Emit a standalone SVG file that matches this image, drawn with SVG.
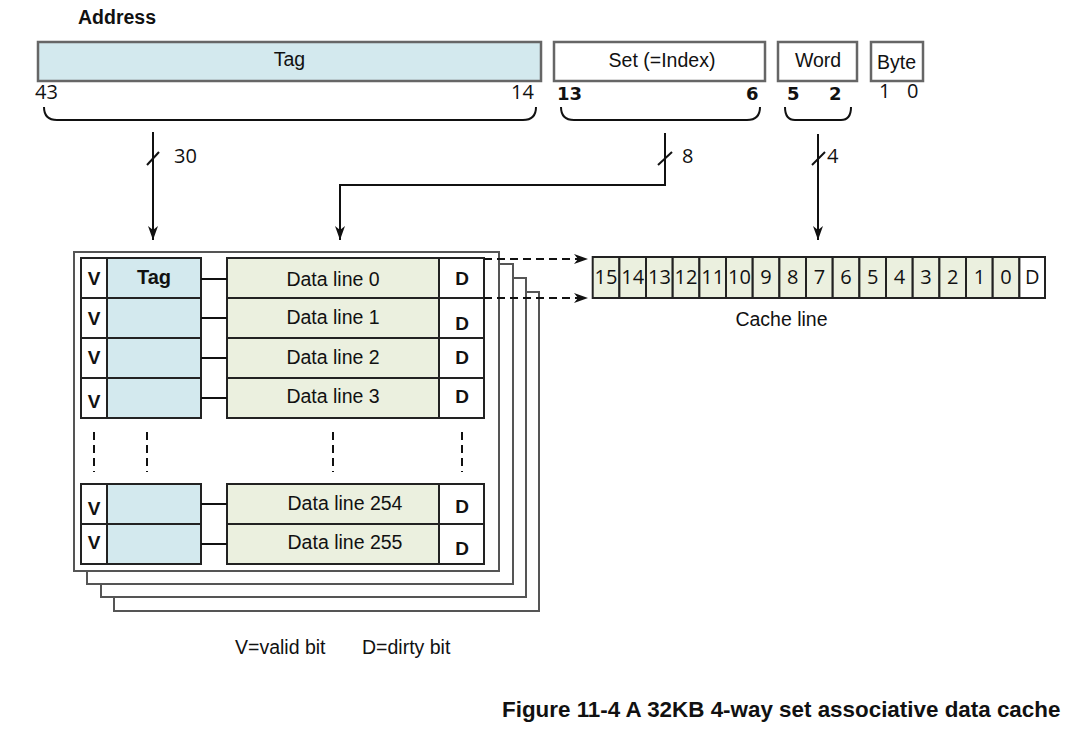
<svg xmlns="http://www.w3.org/2000/svg" width="1086" height="739" viewBox="0 0 1086 739">
  <style>
    .lbl { font-family: "Liberation Sans", Arial, sans-serif; font-size: 19.5px; fill: #111; }
    .bold { font-family: "Liberation Sans", Arial, sans-serif; font-weight: bold; fill: #111; }
    .num { font-family: "Open Sans", "DejaVu Sans", sans-serif; font-size: 20px; fill: #111; }
    .numb { font-family: "DejaVu Sans", Verdana, sans-serif; font-size: 18px; font-weight: bold; fill: #111; }
    .field { stroke: #666; stroke-width: 2.5; }
    .tagc { fill: #d3e9ee; }
    .datac { fill: #ebf0df; }
    .whitec { fill: #fff; }
    .cell { stroke: #222; stroke-width: 2; }
    .way { fill: #fff; stroke: #555; stroke-width: 2; }
    .wire { fill: none; stroke: #111; stroke-width: 2; }
    .dash { fill: none; stroke: #111; stroke-width: 2; stroke-dasharray: 8 5; }
    .brace { fill: none; stroke: #111; stroke-width: 2; }
    .mid { text-anchor: middle; }
  </style>
  <defs>
    <marker id="arrow" viewBox="0 0 14 10" refX="14" refY="5" markerWidth="14" markerHeight="10" markerUnits="userSpaceOnUse" orient="auto">
      <path d="M0,0 L14,5 L0,10 L4,5 Z" fill="#111"/>
    </marker>
  </defs>

  <!-- address fields -->
  <g id="address">
    <text class="bold" x="78" y="24" font-size="19.5px">Address</text>
  </g>
  <g id="field-tag">
    <rect class="field tagc" x="38" y="42" width="503" height="39"/>
    <text class="lbl mid" x="289.5" y="66">Tag</text>
    <text class="num" x="35" y="99">43</text>
    <text class="num" x="511" y="99">14</text>
    <path class="brace" d="M44,107 Q44,120 57,120 H523 Q536,120 536,107"/>
  </g>
  <g id="field-set">
    <rect class="field whitec" x="554" y="42" width="211" height="39"/>
    <text class="lbl mid" x="662" y="67">Set (=Index)</text>
    <text class="numb" x="557" y="100">13</text>
    <text class="numb" x="746" y="100">6</text>
    <path class="brace" d="M561,107 Q561,120 574,120 H747 Q760,120 760,107"/>
  </g>
  <g id="field-word">
    <rect class="field whitec" x="778" y="42" width="79" height="39"/>
    <text class="lbl mid" x="818" y="67">Word</text>
    <text class="numb" x="787" y="100">5</text>
    <text class="numb" x="829" y="100">2</text>
    <path class="brace" d="M785,107 Q785,120 795,120 H841 Q851,120 851,107"/>
  </g>
  <g id="field-byte">
    <rect class="field whitec" x="871" y="42" width="52" height="39"/>
    <text class="lbl mid" x="896.5" y="69">Byte</text>
    <text class="num" x="879" y="98">1</text>
    <text class="num" x="907" y="98">0</text>
  </g>

  <!-- cache ways, back to front -->
  <g id="ways">
    <rect class="way" x="114" y="292" width="425" height="319"/>
    <rect class="way" x="101" y="278" width="425" height="319"/>
    <rect class="way" x="87" y="264" width="426" height="320"/>
    <rect class="way" x="74" y="252" width="425" height="319"/>
  </g>

  <!-- rows of the front way -->
  <g id="row-0">
    <rect class="cell whitec" x="81" y="258" width="26" height="40"/>
    <rect class="cell tagc" x="107" y="258" width="94" height="40"/>
    <rect class="cell datac" x="227" y="258" width="212" height="40"/>
    <rect class="cell whitec" x="439" y="258" width="45" height="40"/>
    <text class="bold mid" x="94" y="285" font-size="19px">V</text>
    <text class="bold mid" x="154" y="284" font-size="20px">Tag</text>
    <text class="lbl mid" x="333" y="286">Data line 0</text>
    <text class="bold mid" x="462" y="285" font-size="19px">D</text>
  </g>
  <g id="row-1">
    <rect class="cell whitec" x="81" y="298" width="26" height="40"/>
    <rect class="cell tagc" x="107" y="298" width="94" height="40"/>
    <rect class="cell datac" x="227" y="298" width="212" height="40"/>
    <rect class="cell whitec" x="439" y="298" width="45" height="40"/>
    <text class="bold mid" x="94" y="325" font-size="19px">V</text>
    <text class="lbl mid" x="333" y="324">Data line 1</text>
    <text class="bold mid" x="462" y="330" font-size="19px">D</text>
  </g>
  <g id="row-2">
    <rect class="cell whitec" x="81" y="338" width="26" height="40"/>
    <rect class="cell tagc" x="107" y="338" width="94" height="40"/>
    <rect class="cell datac" x="227" y="338" width="212" height="40"/>
    <rect class="cell whitec" x="439" y="338" width="45" height="40"/>
    <text class="bold mid" x="94" y="364" font-size="19px">V</text>
    <text class="lbl mid" x="333" y="364">Data line 2</text>
    <text class="bold mid" x="462" y="364" font-size="19px">D</text>
  </g>
  <g id="row-3">
    <rect class="cell whitec" x="81" y="378" width="26" height="40"/>
    <rect class="cell tagc" x="107" y="378" width="94" height="40"/>
    <rect class="cell datac" x="227" y="378" width="212" height="40"/>
    <rect class="cell whitec" x="439" y="378" width="45" height="40"/>
    <text class="bold mid" x="94" y="408" font-size="19px">V</text>
    <text class="lbl mid" x="333" y="403">Data line 3</text>
    <text class="bold mid" x="462" y="403" font-size="19px">D</text>
  </g>
  <g id="row-254">
    <rect class="cell whitec" x="81" y="484" width="26" height="40"/>
    <rect class="cell tagc" x="107" y="484" width="94" height="40"/>
    <rect class="cell datac" x="227" y="484" width="212" height="40"/>
    <rect class="cell whitec" x="439" y="484" width="45" height="40"/>
    <text class="bold mid" x="94" y="515" font-size="19px">V</text>
    <text class="lbl mid" x="345" y="510">Data line 254</text>
    <text class="bold mid" x="462" y="513" font-size="19px">D</text>
  </g>
  <g id="row-255">
    <rect class="cell whitec" x="81" y="524" width="26" height="40"/>
    <rect class="cell tagc" x="107" y="524" width="94" height="40"/>
    <rect class="cell datac" x="227" y="524" width="212" height="40"/>
    <rect class="cell whitec" x="439" y="524" width="45" height="40"/>
    <text class="bold mid" x="94" y="549" font-size="19px">V</text>
    <text class="lbl mid" x="345" y="549">Data line 255</text>
    <text class="bold mid" x="462" y="555" font-size="19px">D</text>
  </g>

  <!-- cache line -->
  <g id="cache-line">
    <g class="cell datac">
      <rect x="592.7" y="257" width="26.67" height="41"/>
      <rect x="619.4" y="257" width="26.67" height="41"/>
      <rect x="646.0" y="257" width="26.67" height="41"/>
      <rect x="672.7" y="257" width="26.67" height="41"/>
      <rect x="699.4" y="257" width="26.67" height="41"/>
      <rect x="726.0" y="257" width="26.67" height="41"/>
      <rect x="752.7" y="257" width="26.67" height="41"/>
      <rect x="779.4" y="257" width="26.67" height="41"/>
      <rect x="806.0" y="257" width="26.67" height="41"/>
      <rect x="832.7" y="257" width="26.67" height="41"/>
      <rect x="859.4" y="257" width="26.67" height="41"/>
      <rect x="886.0" y="257" width="26.67" height="41"/>
      <rect x="912.7" y="257" width="26.67" height="41"/>
      <rect x="939.4" y="257" width="26.67" height="41"/>
      <rect x="966.0" y="257" width="26.67" height="41"/>
      <rect x="992.7" y="257" width="26.67" height="41"/>
    </g>
    <rect class="cell whitec" x="1019.4" y="257" width="25.6" height="41"/>
    <g class="num mid" font-size="22px">
      <text x="606" y="284">15</text>
      <text x="632.7" y="284">14</text>
      <text x="659.4" y="284">13</text>
      <text x="686" y="284">12</text>
      <text x="712.7" y="284">11</text>
      <text x="739.4" y="284">10</text>
      <text x="766" y="284">9</text>
      <text x="792.7" y="284">8</text>
      <text x="819.4" y="284">7</text>
      <text x="846" y="284">6</text>
      <text x="872.7" y="284">5</text>
      <text x="899.4" y="284">4</text>
      <text x="926" y="284">3</text>
      <text x="952.7" y="284">2</text>
      <text x="979.4" y="284">1</text>
      <text x="1006" y="284">0</text>
      <text x="1032.2" y="284">D</text>
    </g>
    <text class="lbl mid" x="781.5" y="326">Cache line</text>
  </g>

  <!-- legend and caption -->
  <g id="legend">
    <text class="lbl" x="235" y="654">V=valid bit</text>
    <text class="lbl" x="362" y="654">D=dirty bit</text>
  </g>
  <g id="caption">
    <text class="bold" x="502" y="717" font-size="22.4px">Figure 11-4 A 32KB 4-way set associative data cache</text>
  </g>

  <!-- connectors -->
  <g id="connectors">
    <!-- tag field to tag column, 30 bits -->
    <path class="wire" d="M153,132 V240" marker-end="url(#arrow)"/>
    <path class="wire" d="M147,165 L159,152"/>
    <text class="num" x="174" y="163" font-size="21px">30</text>
    <!-- set field to row select, 8 bits -->
    <path class="wire" d="M665,133 V185 H340 V240" marker-end="url(#arrow)"/>
    <path class="wire" d="M658,165 L672,152"/>
    <text class="num" x="682" y="163" font-size="21px">8</text>
    <!-- word field to cache line, 4 bits -->
    <path class="wire" d="M818,134 V240" marker-end="url(#arrow)"/>
    <path class="wire" d="M812,165 L825,152"/>
    <text class="num" x="827" y="163" font-size="21px">4</text>
    <!-- tag to data links -->
    <g class="wire">
      <path d="M201,279 H227"/>
      <path d="M201,318 H227"/>
      <path d="M201,358 H227"/>
      <path d="M201,398 H227"/>
      <path d="M201,504 H227"/>
      <path d="M201,544 H227"/>
    </g>
    <!-- elided rows -->
    <g class="dash">
      <path d="M94,432 V472"/>
      <path d="M147,432 V472"/>
      <path d="M333,432 V472"/>
      <path d="M462,432 V472"/>
    </g>
    <!-- line expansion -->
    <path class="dash" d="M484,259 H588" marker-end="url(#arrow)"/>
    <path class="dash" d="M484,298 H588" marker-end="url(#arrow)"/>
  </g>
</svg>
